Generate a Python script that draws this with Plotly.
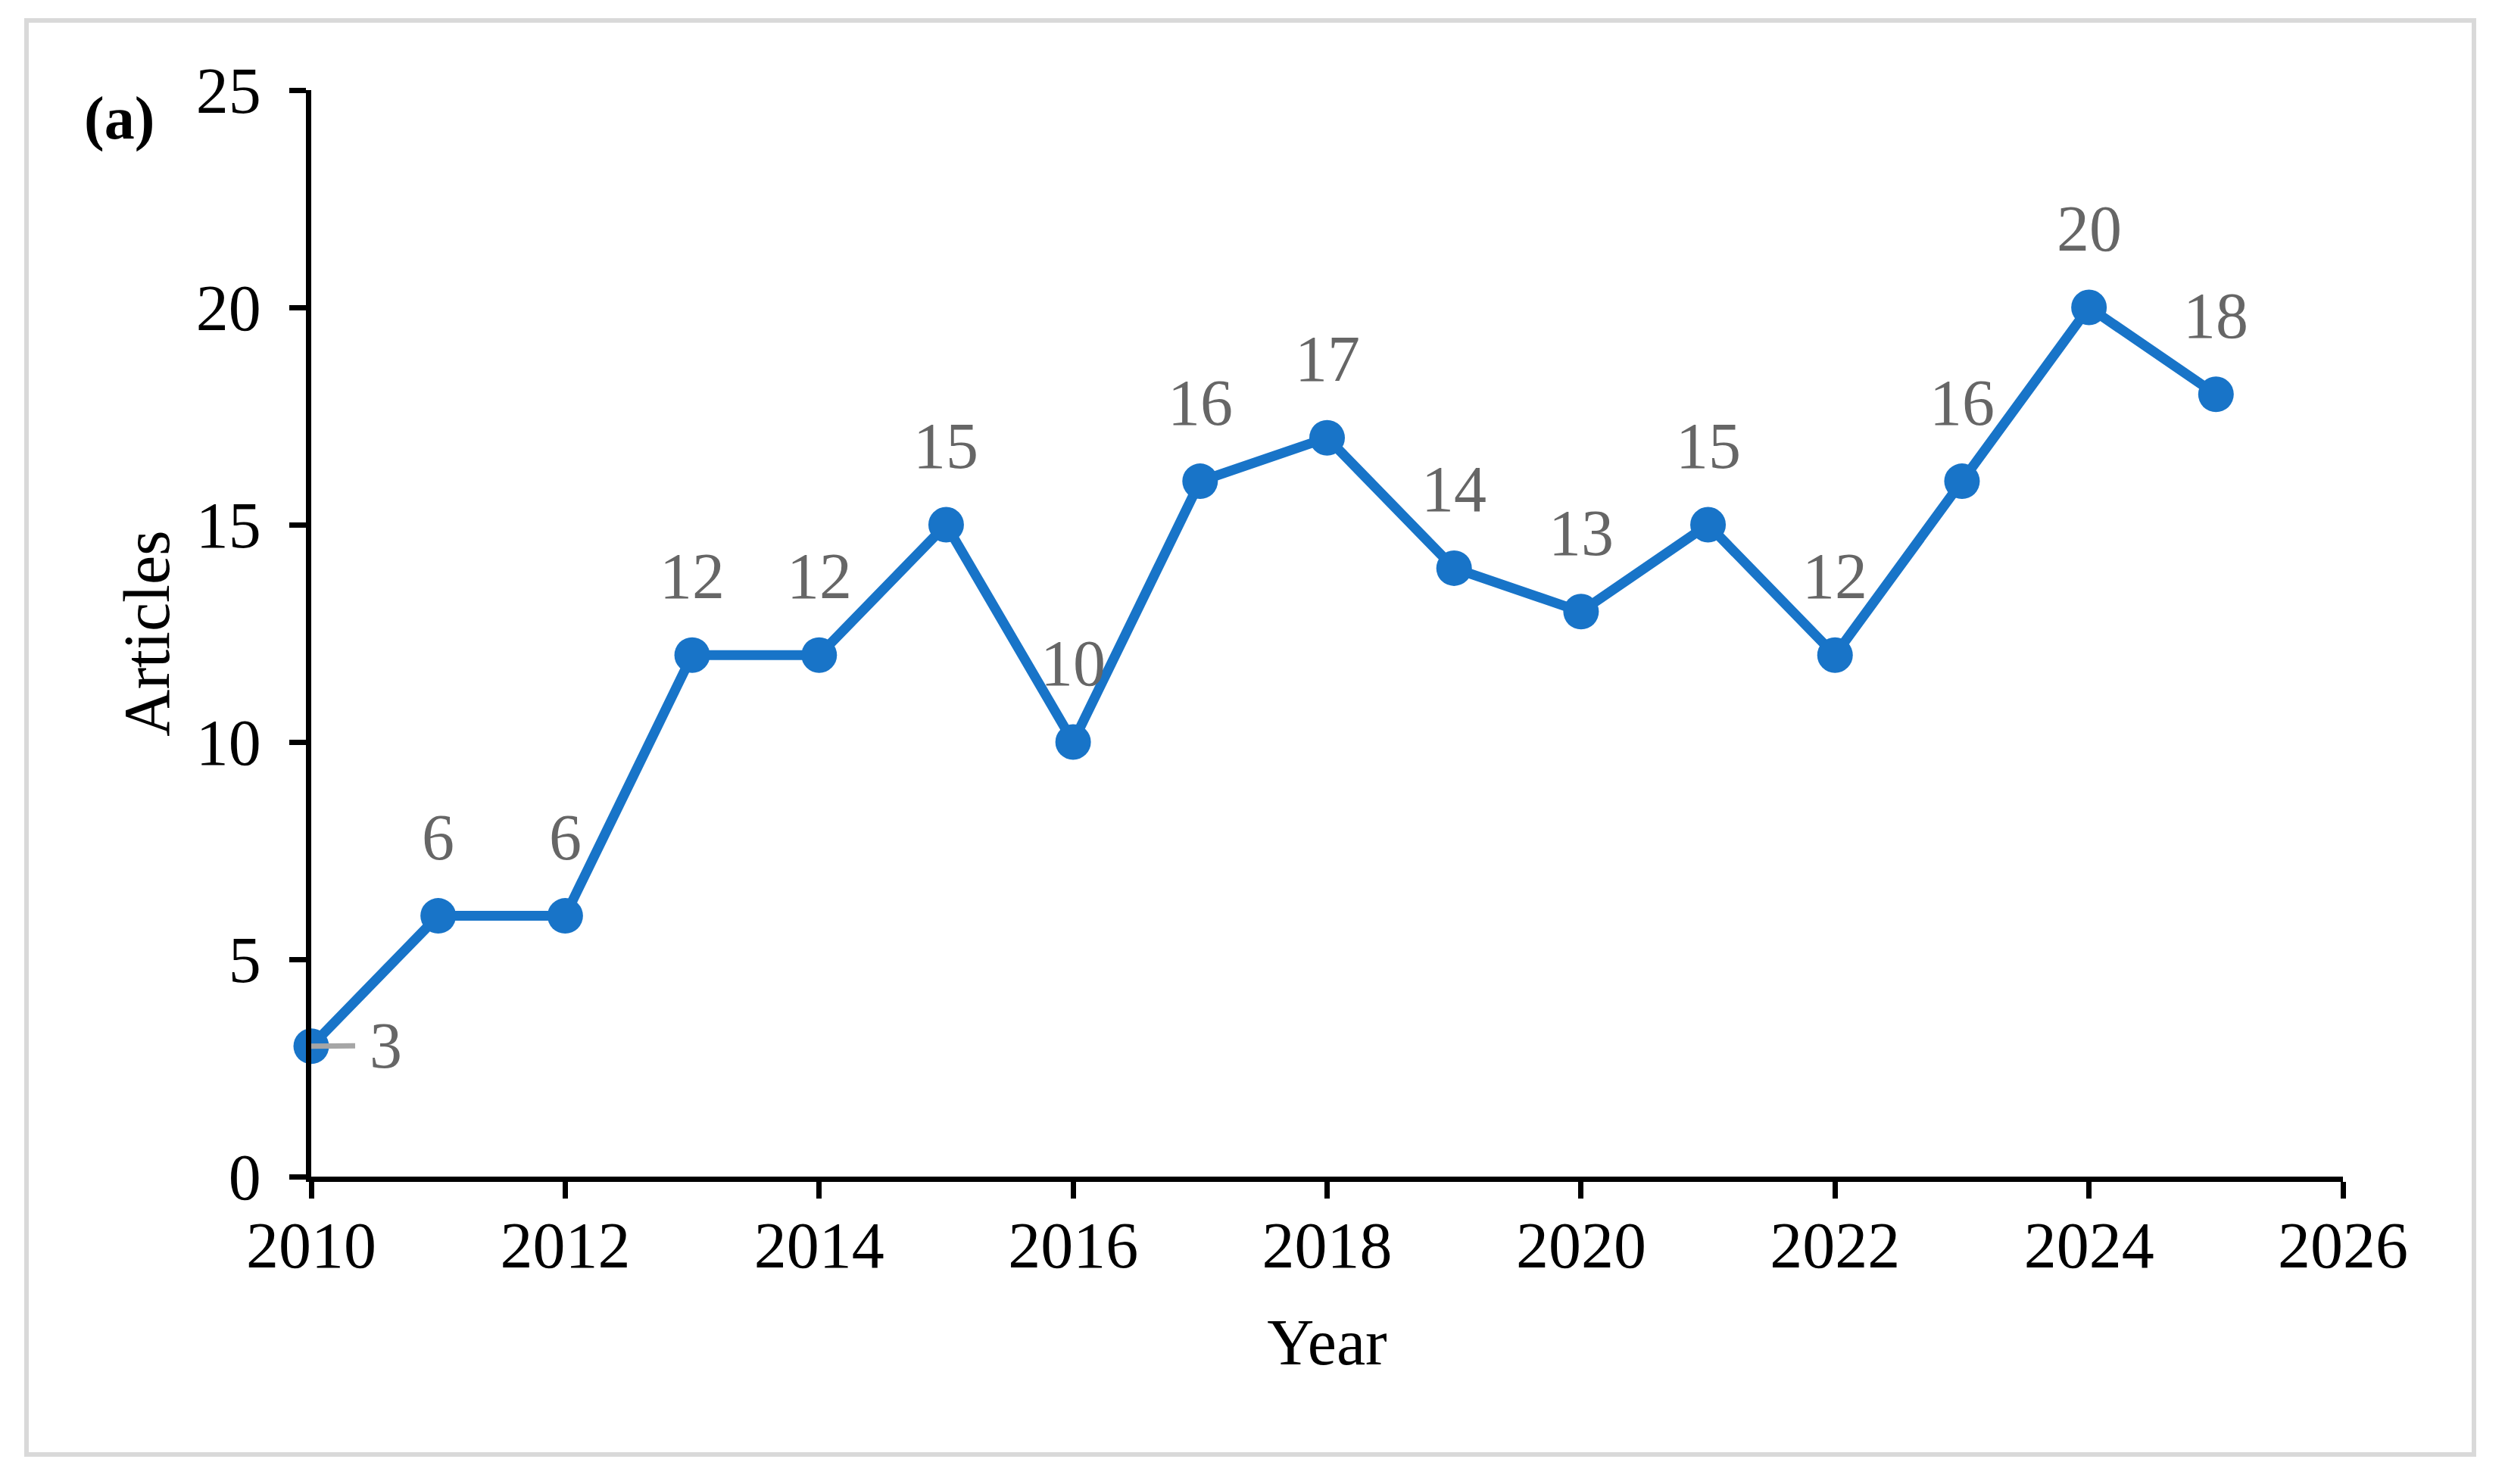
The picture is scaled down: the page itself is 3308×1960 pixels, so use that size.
import plotly.graph_objects as go

years = [2010, 2011, 2012, 2013, 2014, 2015, 2016, 2017, 2018, 2019, 2020, 2021, 2022, 2023, 2024, 2025]
articles = [3, 6, 6, 12, 12, 15, 10, 16, 17, 14, 13, 15, 12, 16, 20, 18]
x_ticks = [2010, 2012, 2014, 2016, 2018, 2020, 2022, 2024, 2026]
y_ticks = [0, 5, 10, 15, 20, 25]

BLUE = "#1874C8"
LABEL_GRAY = "#666666"
FONT = "Liberation Serif, Times New Roman, serif"
FS = 86

W, H = 3308, 1960
L, R, T, B = 411, 214, 119, 406
pw, ph = W - L - R, H - T - B

fig = go.Figure()
fig.add_trace(go.Scatter(
    x=years, y=articles, mode="lines+markers",
    line=dict(color=BLUE, width=13),
    marker=dict(color=BLUE, size=47),
    showlegend=False, cliponaxis=False,
))

annotations = []
for yr, v in zip(years, articles):
    if yr == 2010:
        annotations.append(dict(
            x=yr, y=v, xref="x", yref="y", text=str(v), showarrow=True,
            arrowhead=0, arrowwidth=7, arrowcolor="#A6A6A6", ax=98, ay=-1,
            standoff=0, startstandoff=17,
            font=dict(family=FONT, size=FS, color=LABEL_GRAY),
        ))
    else:
        annotations.append(dict(
            x=yr, y=v, xref="x", yref="y", text=str(v), showarrow=False,
            yshift=104, xanchor="center", yanchor="middle",
            font=dict(family=FONT, size=FS, color=LABEL_GRAY),
        ))

annotations.append(dict(
    x=(157 - L) / pw, y=(H - B - 157) / ph, xref="paper", yref="paper",
    text="<b>(a)</b>", showarrow=False, xanchor="center", yanchor="middle",
    font=dict(family=FONT, size=80, color="black"),
))

fig.update_layout(
    width=W, height=H,
    margin=dict(l=L, r=R, t=T, b=B, autoexpand=False),
    paper_bgcolor="white", plot_bgcolor="white",
    font=dict(family=FONT, size=FS, color="black"),
    annotations=annotations,
    shapes=[dict(
        type="rect", xref="paper", yref="paper",
        x0=(35 - L) / pw, x1=(3267 - L) / pw,
        y0=(H - B - 1921) / ph, y1=(H - B - 27) / ph,
        line=dict(color="#D9D9D9", width=6), fillcolor="rgba(0,0,0,0)", layer="below",
    )],
)

fig.update_xaxes(
    range=[2010, 2026], tickvals=x_ticks, ticktext=[str(t) for t in x_ticks],
    showline=True, linecolor="black", linewidth=7, mirror=False,
    ticks="outside", ticklen=22, tickwidth=7, tickcolor="black",
    showgrid=False, zeroline=False, ticklabelstandoff=-12,
    tickfont=dict(family=FONT, size=FS, color="black"),
    title=dict(text="Year", font=dict(family=FONT, size=FS, color="black"), standoff=52),
)
fig.update_yaxes(
    range=[0, 25], tickvals=y_ticks,
    showline=True, linecolor="black", linewidth=7,
    ticks="outside", ticklen=22, tickwidth=7, tickcolor="black",
    showgrid=False, zeroline=False, ticklabelstandoff=20,
    tickfont=dict(family=FONT, size=FS, color="black"),
    title=dict(text="Articles", font=dict(family=FONT, size=FS, color="black"), standoff=9),
)

fig.write_html("out.html", config={"displayModeBar": False},
               post_script="document.body.style.margin='0px';")
